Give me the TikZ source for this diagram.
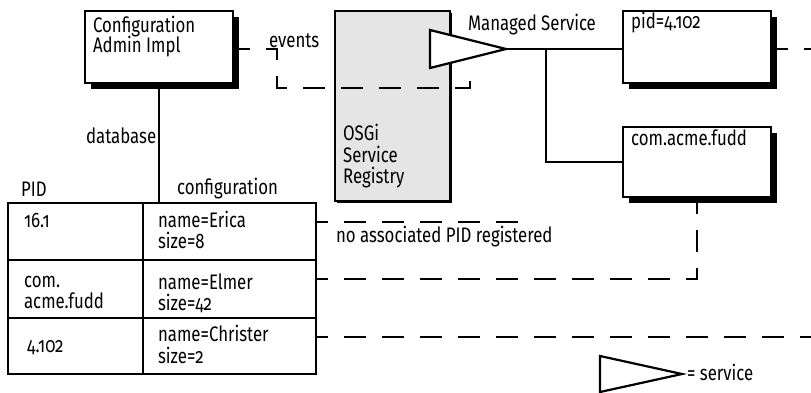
\documentclass[tikz,border=0pt]{standalone}
\usepackage{fontspec}
\setmainfont{Fira Sans}[Numbers=OldStyle,FakeStretch=0.8]
\usetikzlibrary{shapes.geometric}
\begin{document}
\begin{tikzpicture}[x=1pt,y=-1pt,line width=2.2pt,
  font=\fontsize{21}{22}\selectfont,
  sbox/.style={draw,fill=white,minimum width=148pt,minimum height=72pt,inner sep=0pt,outer sep=0pt,anchor=north west},
  shadowfill/.style={fill=black},
  cell/.style={draw,inner sep=0pt,outer sep=0pt,anchor=north west},
  txt/.style={inner sep=0pt,anchor=base west},
  dline/.style={dash pattern=on 22pt off 16pt,dash phase=5pt},
  tline/.style={dash pattern=on 22pt off 16pt,dash phase=10pt},
  svcshape/.style={draw,fill=white,isosceles triangle,isosceles triangle stretches,shape border rotate=0,inner sep=0pt,outer sep=0pt,anchor=apex}]
\useasboundingbox (0,0) rectangle (811,392);
% registry
\fill[shadowfill] (337,13) rectangle (452,203);
\node[draw,fill=black!10,minimum width=115pt,minimum height=190pt,inner sep=0pt,outer sep=0pt,anchor=north west] (reg) at (335,11) {};
\node[txt] at (342,140) {OSGi};
\node[txt] at (342,162) {Service};
\node[txt] at (342,183) {Registry};
% shadows
\fill[shadowfill] (91,17) rectangle (239,89);
\fill[shadowfill] (629,17) rectangle (777,89);
\fill[shadowfill] (629,133) rectangle (777,203);
% boxes
\node[sbox] (cfg) at (85,11) {};
\node[txt] at (92,32) {Configuration};
\node[txt] at (92,52) {Admin Impl};
\node[sbox] (pid) at (623,11) {};
\node[txt] at (630,28) {pid=4.102};
\node[sbox,minimum height=70pt] (com) at (623,127) {};
\node[txt] at (630,145) {com.acme.fudd};
% service triangle
\node[svcshape,minimum width=38pt,minimum height=76pt] (svc) at (506,49) {};
\node[svcshape,minimum width=36pt,minimum height=82pt] (leg) at (682,374) {};
\node[txt] at (686,380) {= service};
% table
\node[cell,minimum width=135pt,minimum height=57pt] (p1) at (8,203) {};
\node[cell,minimum width=173pt,minimum height=57pt] (c1) at (143,203) {};
\node[cell,minimum width=135pt,minimum height=58pt] (p2) at (8,260) {};
\node[cell,minimum width=173pt,minimum height=58pt] (c2) at (143,260) {};
\node[cell,minimum width=135pt,minimum height=56pt] (p3) at (8,318) {};
\node[cell,minimum width=173pt,minimum height=56pt] (c3) at (143,318) {};
\node[txt] at (23,227) {16.1};
\node[txt] at (157,227) {name=Erica};
\node[txt] at (157,248) {size=8};
\node[txt] at (23,287) {com.};
\node[txt] at (23,308) {acme.fudd};
\node[txt] at (157,289) {name=Elmer};
\node[txt] at (157,310) {size=42};
\node[txt] at (26,352) {4.102};
\node[txt] at (157,341) {name=Christer};
\node[txt] at (157,363) {size=2};
% labels
\node[txt] at (85,143) {database};
\node[txt] at (20,196) {PID};
\node[txt] at (176,194) {configuration};
\node[txt] at (268,47) {events};
\node[txt] at (467,30) {Managed Service};
\node[txt] at (335,242) {no associated PID registered};
% coordinates
\coordinate (evend) at (470,77);
\coordinate (br) at (546,49);
\coordinate (pidend) at (811,49);
\coordinate (r1end) at (528,222);
\coordinate (r3end) at (811,337);
% connectors
\draw (cfg.south) -- (cfg.south |- c1.north);
\draw[dline] (cfg.east |- 0,49) -- (277,49) |- (470,88) -- (evend);
\draw (svc.apex) -- (svc.apex -| pid.west);
\draw (br) |- (com.west);
\draw[dline] (pid.east |- pidend) -- (pidend);
\draw[tline] (c1.east |- r1end) -- (r1end);
\draw[tline] (c2.east |- 0,279) -| ([yshift=-6pt]com.south);
\draw[tline] (c3.east |- r3end) -- (r3end);
\end{tikzpicture}
\end{document}
